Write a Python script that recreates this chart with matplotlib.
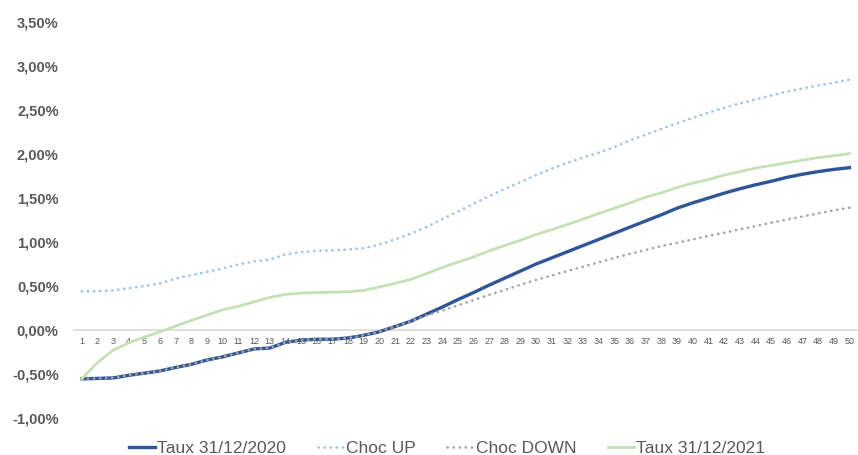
import numpy as np
import matplotlib
matplotlib.use("Agg")
from matplotlib import pyplot as plt
from matplotlib.ticker import FuncFormatter

maturites = list(range(1, 51))

taux_2020 = [-0.555, -0.55, -0.545, -0.515, -0.49, -0.465, -0.425, -0.39, -0.34, -0.305,
             -0.26, -0.215, -0.205, -0.14, -0.115, -0.105, -0.105, -0.09, -0.06, -0.02,
             0.04, 0.10, 0.18, 0.26, 0.345, 0.425, 0.51, 0.59, 0.67, 0.75,
             0.82, 0.89, 0.96, 1.03, 1.10, 1.17, 1.24, 1.31, 1.385, 1.445,
             1.50, 1.555, 1.605, 1.65, 1.69, 1.735, 1.77, 1.80, 1.825, 1.845]

choc_up = [0.44, 0.44, 0.45, 0.475, 0.50, 0.53, 0.585, 0.625, 0.66, 0.70,
           0.745, 0.78, 0.80, 0.86, 0.885, 0.90, 0.905, 0.915, 0.93, 0.97,
           1.03, 1.095, 1.17, 1.26, 1.345, 1.435, 1.52, 1.605, 1.68, 1.76,
           1.835, 1.90, 1.96, 2.015, 2.08, 2.155, 2.22, 2.285, 2.35, 2.41,
           2.47, 2.525, 2.575, 2.62, 2.665, 2.71, 2.745, 2.78, 2.81, 2.845]

choc_down = [-0.555, -0.55, -0.545, -0.515, -0.49, -0.465, -0.425, -0.39, -0.34, -0.305,
             -0.26, -0.215, -0.205, -0.14, -0.115, -0.105, -0.105, -0.09, -0.06, -0.02,
             0.04, 0.10, 0.165, 0.22, 0.28, 0.34, 0.40, 0.455, 0.515, 0.57,
             0.62, 0.67, 0.72, 0.77, 0.82, 0.865, 0.91, 0.955, 0.99, 1.03,
             1.07, 1.105, 1.145, 1.18, 1.22, 1.255, 1.29, 1.325, 1.36, 1.39]

taux_2021 = [-0.555, -0.37, -0.23, -0.145, -0.08, -0.02, 0.045, 0.11, 0.17, 0.23,
             0.27, 0.32, 0.37, 0.405, 0.42, 0.425, 0.43, 0.435, 0.45, 0.49,
             0.53, 0.575, 0.64, 0.71, 0.77, 0.83, 0.90, 0.96, 1.02, 1.085,
             1.14, 1.20, 1.26, 1.325, 1.385, 1.445, 1.51, 1.56, 1.62, 1.67,
             1.71, 1.76, 1.80, 1.84, 1.87, 1.90, 1.93, 1.96, 1.98, 2.005]

series_labels = ["Taux 31/12/2020", "Choc UP", "Choc DOWN", "Taux 31/12/2021"]

plt.rcParams['font.family'] = ['Liberation Sans', 'DejaVu Sans']
grey_txt = '#595959'
dots = (0, (0.1, 2.2))

fig = plt.figure(figsize=(8.58, 4.55), dpi=100)
ax = fig.add_axes([0.0862, 0.0813, 0.913, 0.8703])

ax.plot(maturites, taux_2020, color='#2F5597', lw=2.4, label=series_labels[0])
ax.plot(maturites, choc_up, color='#9DC3E6', lw=1.9, linestyle=dots,
        dash_capstyle='round', label=series_labels[1])
ax.plot(maturites, choc_down, color='#A5A5A5', lw=1.9, linestyle=dots,
        dash_capstyle='round', label=series_labels[2])
ax.plot(maturites, taux_2021, color='#C5E0B4', lw=2.0, label=series_labels[3])

ax.set_xlim(0.5, 50.5)
ax.set_ylim(-1.0, 3.5)

for s in ['left', 'right', 'top']:
    ax.spines[s].set_visible(False)
ax.spines['bottom'].set_position(('data', 0))
ax.spines['bottom'].set_color('#D9D9D9')
ax.spines['bottom'].set_linewidth(1.2)
ax.spines['bottom'].set_zorder(0)

ax.set_xticks(maturites)
ax.set_xticklabels([str(m) for m in maturites], fontsize=6.5, color=grey_txt)
ax.set_yticks(np.arange(-1.0, 3.51, 0.5))
ax.yaxis.set_major_formatter(FuncFormatter(lambda v, p: f"{v:.2f}%".replace('.', ',')))
for lab in ax.get_yticklabels():
    lab.set_fontweight('bold')
ax.tick_params(axis='y', length=0, pad=11, labelsize=10.5, labelcolor=grey_txt)
ax.tick_params(axis='x', length=0, pad=5)

leg = fig.legend(loc='lower center', bbox_to_anchor=(0.521, -0.036), ncol=4, frameon=False,
                 fontsize=12.5, handlelength=1.5, handletextpad=0.15, columnspacing=1.8)
for t in leg.get_texts():
    t.set_color(grey_txt)

fig.savefig('out.png', dpi=100)
